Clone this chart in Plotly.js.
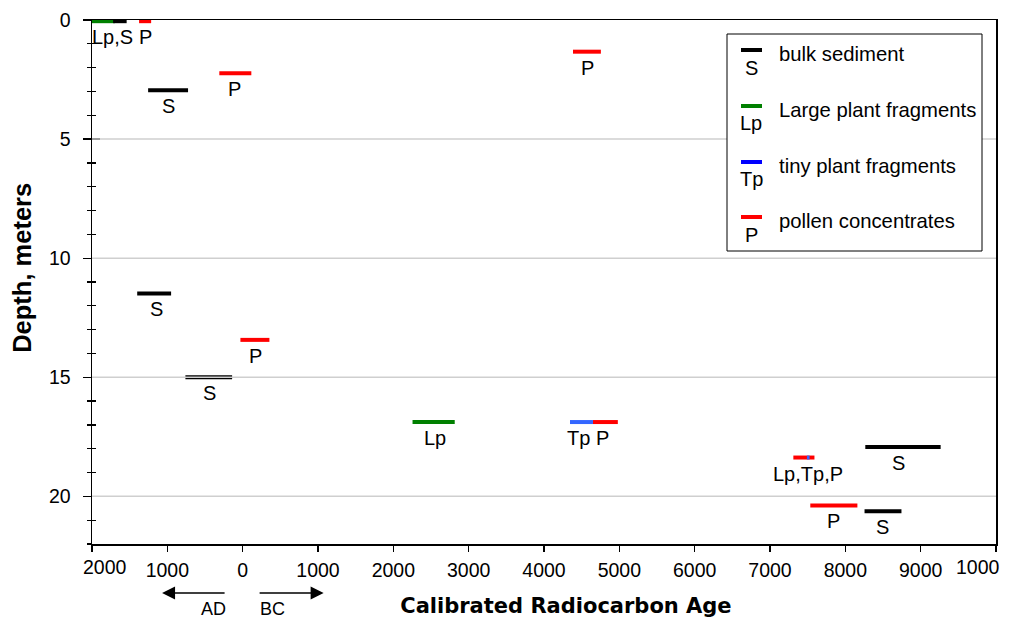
<!DOCTYPE html>
<html>
<head>
<meta charset="utf-8">
<script src="https://cdn.plot.ly/plotly-3.0.1.min.js"></script>
<style>html,body{margin:0;padding:0;background:#fff;}#chart{width:1010px;height:618px;}</style>
</head>
<body>
<div id="chart"></div>
<script>
// Ages: negative = years AD, positive = years BC / BP-style calibrated age
// bulk sediment (S)
const sStart = [-1720, -1255, -1400, -760, 8265, 8255];
const sEnd   = [-1540,  -725,  -950, -140, 9265, 8745];
const sDepth = [0.05, 2.95, 11.48, 15.0, 17.93, 20.62];
// large plant fragments (Lp)
const lpStart = [-2000, 2255];
const lpEnd   = [-1695, 2815];
const lpDepth = [0.05, 16.88];
// tiny plant fragments (Tp)
const tpStart = [4345, 7490];
const tpEnd   = [4650, 7525];
const tpDepth = [16.88, 18.37];
// pollen concentrates (P)
const pStart = [-1375, -310, 4385, -30, 4650, 7310, 7535];
const pEnd   = [-1215,  115, 4755, 355, 4980, 7590, 8160];
const pDepth = [0.05, 2.24, 1.33, 13.43, 16.88, 18.37, 20.38];
// sample labels
const labelText  = ["Lp,S", "P", "S", "P", "P", "S", "P", "S", "Lp", "Tp P", "Lp,Tp,P", "S", "P", "S"];
const labelAge   = [-1734, -1295, -989, -112, 4582, -1149, 168, -444, 2548, 4582, 7508, 8705, 7840, 8492];
const labelDepth = [0.05, 0.05, 2.95, 2.24, 1.33, 11.48, 13.43, 15.0, 16.88, 16.88, 18.37, 17.93, 20.38, 20.62];
// axes
const xTickVals = [-2000, -1000, 0, 1000, 2000, 3000, 4000, 5000, 6000, 7000, 8000, 9000, 10000];
const xTickText = ["2000", "1000", "0", "1000", "2000", "3000", "4000", "5000", "6000", "7000", "8000", "9000", "1000"];
const yTickVals = [0, 5, 10, 15, 20];
const gridDepths = [5, 10, 15, 20];
// legend
const legendNames = ["bulk sediment", "Large plant fragments", "tiny plant fragments", "pollen concentrates"];
const legendCodes = ["S", "Lp", "Tp", "P"];
const legendColors = ["#000000", "#008000", "#0000ff", "#ff0000"];
// direction arrows
const arrowAD = [-220, -1070];
const arrowBC = [205, 1075];

const FONT = "Liberation Sans, Arial, Helvetica, sans-serif";

function segTrace(starts, ends, depths, name, color, width) {
  const x = [], y = [];
  for (let i = 0; i < starts.length; i++) {
    x.push(starts[i], ends[i], null);
    y.push(depths[i], depths[i], null);
  }
  return {x: x, y: y, type: "scatter", mode: "lines", name: name,
          line: {color: color, width: width}, hoverinfo: "skip", showlegend: false};
}

const traces = [
  segTrace(lpStart, lpEnd, lpDepth, "Large plant fragments", "#008000", 4),
  segTrace(sStart, sEnd, sDepth, "bulk sediment", "#000000", 4),
  segTrace(pStart, pEnd, pDepth, "pollen concentrates", "#ff0000", 4),
  segTrace(tpStart, tpEnd, tpDepth, "tiny plant fragments", "#3366ff", 4),
  {x: [], y: [], yaxis: "y2", type: "scatter", showlegend: false}
];

const annotations = [];
for (let i = 0; i < labelText.length; i++) {
  annotations.push({x: labelAge[i], y: labelDepth[i], xref: "x", yref: "y",
    text: labelText[i], showarrow: false, yshift: -16, yanchor: "middle", xanchor: "center",
    font: {family: FONT, size: 20, color: "#000"}});
}
// edge tick labels (shifted like the reference)
annotations.push({x: -2000, y: 0, xref: "x", yref: "paper", text: "2000", showarrow: false,
  xshift: 13, yshift: -23, yanchor: "middle", font: {family: FONT, size: 19.5, color: "#000"}});
annotations.push({x: 10000, y: 0, xref: "x", yref: "paper", text: "1000", showarrow: false,
  xshift: -18, yshift: -23, yanchor: "middle", font: {family: FONT, size: 19.5, color: "#000"}});
// arrows
annotations.push({x: arrowAD[1], y: -0.0935, xref: "x", yref: "paper", ax: arrowAD[0], axref: "x",
  ay: 0, ayref: "pixel", showarrow: true, arrowhead: 2, arrowsize: 2, arrowwidth: 1.3, arrowcolor: "#000", text: ""});
annotations.push({x: arrowBC[1], y: -0.0935, xref: "x", yref: "paper", ax: arrowBC[0], axref: "x",
  ay: 0, ayref: "pixel", showarrow: true, arrowhead: 2, arrowsize: 2, arrowwidth: 1.3, arrowcolor: "#000", text: ""});
annotations.push({x: -391, y: -0.124, xref: "x", yref: "paper", text: "AD", showarrow: false,
  yanchor: "middle", font: {family: FONT, size: 18, color: "#000"}});
annotations.push({x: 394, y: -0.124, xref: "x", yref: "paper", text: "BC", showarrow: false,
  yanchor: "middle", font: {family: FONT, size: 18, color: "#000"}});

// gridlines drawn over the marks, as in the reference
const shapes = [];
gridDepths.forEach(d => shapes.push({type: "line", xref: "paper", yref: "y", x0: 0, x1: 1, y0: d, y1: d,
  line: {color: "#cfcfcf", width: 1.5}, layer: "above"}));
// manual legend box
const px = p => (p - 92) / 904, py = p => (544 - p) / 524;
shapes.push({type: "rect", xref: "paper", yref: "paper", x0: px(727), x1: px(982), y0: py(251), y1: py(34),
  line: {color: "#000", width: 1}, fillcolor: "#fff", layer: "above"});
const lineY = [50, 106, 162, 217], codeY = [68, 123, 179, 235], textY = [54, 110, 166, 221];
for (let i = 0; i < legendNames.length; i++) {
  shapes.push({type: "line", xref: "paper", yref: "paper", x0: px(741), x1: px(762), y0: py(lineY[i]), y1: py(lineY[i]),
    line: {color: legendColors[i], width: 4}, layer: "above"});
  annotations.push({x: px(751), y: py(codeY[i]), xref: "paper", yref: "paper", text: legendCodes[i],
    showarrow: false, xanchor: "center", yanchor: "middle", font: {family: FONT, size: 20, color: "#000"}});
  annotations.push({x: px(777), y: py(textY[i]), xref: "paper", yref: "paper", text: legendNames[i],
    showarrow: false, xanchor: "left", yanchor: "middle", font: {family: FONT, size: 20.3, color: "#000"}});
}

const layout = {
  width: 1010, height: 618,
  margin: {l: 92, r: 14, t: 20, b: 74},
  paper_bgcolor: "#fff", plot_bgcolor: "#fff",
  showlegend: false,
  font: {family: FONT, size: 19.5, color: "#000"},
  xaxis: {
    range: [-2000, 10000], tickvals: xTickVals,
    ticktext: xTickText.map((t, i) => (i === 0 || i === xTickText.length - 1) ? "" : t),
    ticks: "outside", ticklen: 6, tickwidth: 1.2, tickcolor: "#000",
    showline: true, linecolor: "#000", linewidth: 1.5, mirror: true,
    showgrid: false, zeroline: false, ticklabelstandoff: 2,
    tickfont: {family: FONT, size: 19.5},
    title: {text: "&nbsp;&nbsp;&nbsp;&nbsp;&nbsp;&nbsp;Calibrated Radiocarbon Age", font: {family: "DejaVu Sans, sans-serif", size: 21, weight: "bold"}, standoff: 30}
  },
  yaxis: {
    range: [22, 0], tickvals: yTickVals,
    ticks: "outside", ticklen: 8, tickwidth: 1.2, tickcolor: "#000",
    minor: {dtick: 1, tick0: 0, ticks: "outside", ticklen: 4, tickwidth: 1.2, tickcolor: "#000", showgrid: false},
    showline: true, linecolor: "#000", linewidth: 1.5, mirror: true,
    showgrid: false, zeroline: false, ticklabelstandoff: 8,
    tickfont: {family: FONT, size: 19.5},
    title: {text: "&nbsp;&nbsp;&nbsp;&nbsp;Depth, meters", font: {family: FONT, size: 25.5, weight: "bold"}, standoff: 10}
  },
  yaxis2: {
    range: [22, 0], overlaying: "y", side: "left", tickvals: yTickVals,
    ticks: "inside", ticklen: 8, tickwidth: 1.2, tickcolor: "#000",
    minor: {dtick: 1, tick0: 0, ticks: "inside", ticklen: 4, tickwidth: 1.2, tickcolor: "#000", showgrid: false},
    showticklabels: false, showgrid: false, zeroline: false, showline: false
  },
  shapes: shapes,
  annotations: annotations
};

Plotly.newPlot("chart", traces, layout, {displayModeBar: false, staticPlot: true});
</script>
</body>
</html>
